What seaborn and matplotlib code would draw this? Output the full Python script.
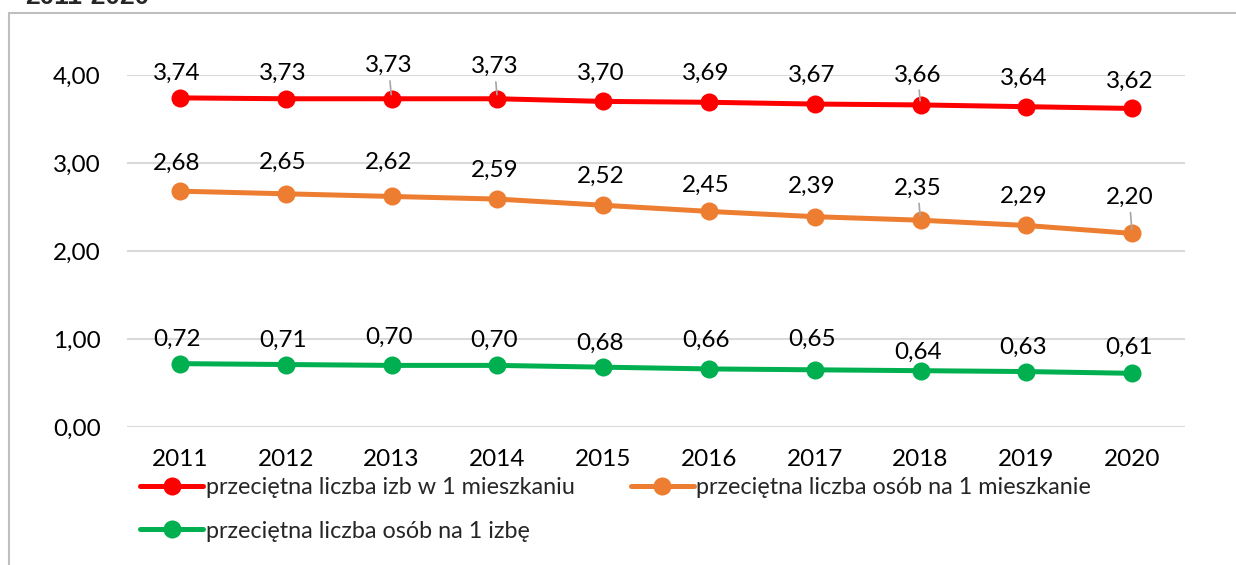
import matplotlib
matplotlib.use("Agg")
import matplotlib.pyplot as plt
import seaborn as sns
import pandas as pd
from matplotlib.patches import Rectangle
from matplotlib.lines import Line2D

years = ["2011", "2012", "2013", "2014", "2015", "2016", "2017", "2018", "2019", "2020"]
rooms_per_dwelling = [3.74, 3.73, 3.73, 3.73, 3.70, 3.69, 3.67, 3.66, 3.64, 3.62]
persons_per_dwelling = [2.68, 2.65, 2.62, 2.59, 2.52, 2.45, 2.39, 2.35, 2.29, 2.20]
persons_per_room = [0.72, 0.71, 0.70, 0.70, 0.68, 0.66, 0.65, 0.64, 0.63, 0.61]
series_names = ["przeciętna liczba izb w 1 mieszkaniu",
                "przeciętna liczba osób na 1 mieszkanie",
                "przeciętna liczba osób na 1 izbę"]
y_ticks = [0, 1, 2, 3, 4]
title_text = "2011-2020"

# label offsets (pixels above point) and leader-line flags
label_off = [
    [25, 25, 33, 32, 28, 29, 29, 30, 28, 27],
    [28, 31, 34, 29, 29, 26, 30, 32, 29, 36],
    [24, 24, 28, 25, 24, 29, 30, 18, 24, 26],
]
leaders = [
    [0, 0, 1, 1, 0, 0, 0, 1, 0, 0],
    [0, 0, 0, 0, 0, 0, 0, 1, 0, 1],
    [0] * 10,
]
colors = ["#FF0000", "#ED7D31", "#00B050"]

sns.set_theme(style="white")
FONT = ["Lato", "DejaVu Sans"]
plt.rcParams["font.family"] = FONT
FS = 17.5
LFS = 16.8

W, H = 1236, 565
fig = plt.figure(figsize=(W / 100, H / 100), dpi=100)
ax = fig.add_axes([127 / W, 1 - 427 / H, (1185 - 127) / W, (427 - 75) / H])

all_vals = [rooms_per_dwelling, persons_per_dwelling, persons_per_room]
df = pd.DataFrame({
    "year": years * 3,
    "x": list(range(len(years))) * 3,
    "value": rooms_per_dwelling + persons_per_dwelling + persons_per_room,
    "series": [series_names[0]] * 10 + [series_names[1]] * 10 + [series_names[2]] * 10,
})
sns.lineplot(data=df, x="x", y="value", hue="series", palette=colors,
             hue_order=series_names, marker="o", markersize=13, linewidth=3.6,
             markeredgewidth=0, legend=False, ax=ax, zorder=3)

ax.set_xlim(-0.5, len(years) - 0.5)
ax.set_ylim(0, 4)
ax.set_yticks(y_ticks)
ax.set_yticklabels([f"{v:.2f}".replace(".", ",") for v in y_ticks], fontsize=FS, color="black")
ax.set_xticks(range(len(years)))
ax.set_xticklabels(years, fontsize=FS, color="black")
ax.tick_params(axis="y", length=0, pad=19)
ax.tick_params(axis="x", length=0, pad=16)
ax.grid(axis="y", color="#D9D9D9", linewidth=1.5)
ax.grid(axis="x", visible=False)
ax.set_xlabel("")
ax.set_ylabel("")
for s in ax.spines.values():
    s.set_visible(False)

for si, vals in enumerate(all_vals):
    for i, v in enumerate(vals):
        lbl = f"{v:.2f}".replace(".", ",")
        off = label_off[si][i] * 0.72
        kw = {}
        if leaders[si][i]:
            kw["arrowprops"] = dict(arrowstyle="-", color="#A6A6A6", lw=1.2,
                                    shrinkA=1, shrinkB=3)
        ax.annotate(lbl, xy=(i, v), xytext=(-2, off), textcoords="offset points",
                    ha="center", va="center", fontsize=FS, color="black",
                    annotation_clip=False, zorder=4, **kw)

handles = [Line2D([], [], color=colors[k], marker="o", markersize=13, linewidth=3.6,
                  markeredgewidth=0) for k in (0, 2, 1)]
labels = [series_names[k] for k in (0, 2, 1)]
leg = fig.legend(handles, labels, ncol=2, loc="upper left",
                 bbox_to_anchor=(131 / W, 1 - 468 / H), frameon=False,
                 fontsize=LFS, handlelength=2.7, handletextpad=0.1,
                 columnspacing=2.4, labelspacing=0.95, borderaxespad=0)

fig.patches.append(Rectangle((9 / W, -0.2), 1.2, (H - 13) / H + 0.2,
                             transform=fig.transFigure, fill=False,
                             edgecolor="#BFBFBF", linewidth=1.5))
fig.text(25 / W, 1 - 4.5 / H, title_text, fontsize=19, fontweight="bold",
         family=["Liberation Sans", "DejaVu Sans"], va="baseline", ha="left")

fig.savefig("out.png", dpi=100)
